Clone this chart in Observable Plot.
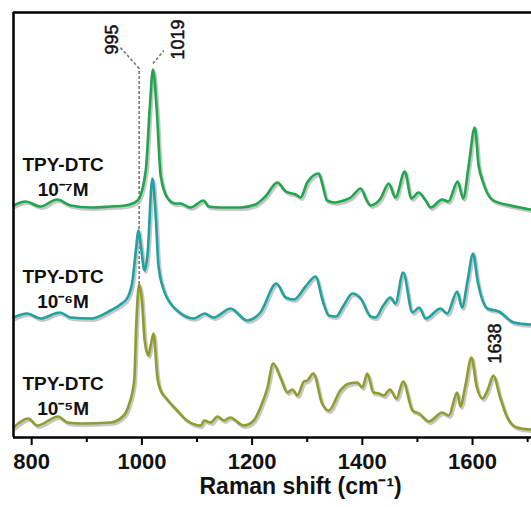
<!DOCTYPE html>
<html>
<head>
<meta charset="utf-8">
<script src="https://cdn.jsdelivr.net/npm/d3@7"></script>
<script src="https://cdn.jsdelivr.net/npm/@observablehq/plot@0.6"></script>
<style>
  html, body { margin: 0; padding: 0; background: #fff; }
  #chart svg { display: block; }
</style>
</head>
<body>
<div id="chart"></div>
<script>
// ---- Data ----
const seriesNames = ["TPY-DTC\n10⁻⁵M", "TPY-DTC\n10⁻⁶M", "TPY-DTC\n10⁻⁷M"];
const seriesColors = ["#8f9c2e", "#20a2a0", "#1fa64e"];
const seriesOffsets = [12, 119, 231];

// 10^-7 M (top, green)
const wn7 = [767, 789, 816, 846, 871, 907, 943, 970, 992, 1007, 1014, 1020, 1027, 1034, 1047, 1061, 1070, 1088, 1112, 1121, 1143, 1179, 1206, 1224, 1246, 1261, 1279, 1288, 1300, 1321, 1328, 1336, 1351, 1366, 1379, 1397, 1408, 1415, 1433, 1448, 1460, 1477, 1489, 1502, 1515, 1524, 1545, 1556, 1573, 1583, 1593, 1604, 1611, 1618, 1627, 1638, 1669, 1705];
const int7 = [1, 5, 0, 7, 1, -1, 0, 1, 6, 36, 96, 137, 96, 31, 8, 3, 3, -1, 6, 0, -1, -1, 2, 10, 24, 15, 12, 9, 24, 33, 21, 6, 4, 6, 9, 18, 6, 1, 8, 23, 9, 35, 8, 14, 6, -1, 7, 5, 25, 8, 41, 79, 41, 26, 13, 6, 1, -3];

// 10^-6 M (middle, teal)
const wn6 = [767, 792, 816, 851, 871, 907, 943, 961, 974, 983, 989, 994, 998, 1005, 1010, 1019, 1025, 1030, 1040, 1052, 1064, 1094, 1114, 1130, 1161, 1191, 1215, 1244, 1261, 1276, 1297, 1315, 1328, 1339, 1352, 1366, 1382, 1397, 1415, 1424, 1438, 1451, 1460, 1474, 1491, 1503, 1515, 1542, 1554, 1572, 1581, 1591, 1601, 1609, 1627, 1648, 1675, 1705];
const int6 = [1, 5, 0, 6, 1, 0, 8, 14, 21, 38, 68, 88, 73, 48, 63, 140, 103, 53, 28, 15, 8, 0, 5, 1, 10, -2, 6, 35, 21, 19, 32, 42, 18, 3, 2, 13, 25, 20, 2, 1, 13, 21, 15, 46, 6, 11, 0, 10, 5, 27, 11, 38, 65, 38, 10, 7, -4, -6];

// 10^-5 M (bottom, olive)
const wn5 = [767, 794, 810, 848, 865, 889, 943, 967, 976, 986, 990, 995, 1000, 1005, 1012, 1016, 1021, 1028, 1034, 1043, 1064, 1082, 1107, 1113, 1125, 1137, 1149, 1160, 1185, 1203, 1215, 1228, 1238, 1252, 1264, 1273, 1282, 1294, 1300, 1311, 1327, 1339, 1360, 1376, 1391, 1400, 1409, 1420, 1430, 1439, 1450, 1462, 1474, 1491, 1503, 1521, 1545, 1557, 1572, 1578, 1587, 1598, 1607, 1618, 1627, 1638, 1649, 1663, 1681, 1705];
const int5 = [-2, 7, 0, 9, 3, 2, 3, 10, 20, 45, 105, 141, 125, 85, 70, 80, 92, 48, 35, 28, 15, 5, 0, 5, 3, 9, 5, 8, 0, 5, 18, 38, 62, 47, 33, 36, 30, 44, 45, 52, 22, 15, 35, 42, 43, 38, 52, 33, 32, 30, 36, 27, 44, 15, 12, 4, 13, 10, 33, 19, 40, 68, 40, 27, 35, 50, 30, 8, -2, -4];

const majorTicks = [800, 1000, 1200, 1400, 1600];
const minorTicks = [900, 1100, 1300, 1500, 1700];
const peakLabels = ["995", "1019", "1638"];
const xLabel = "Raman shift (cm⁻¹)";

// ---- Build table ----
const raw = [[wn5, int5], [wn6, int6], [wn7, int7]];
const rows = [];
raw.forEach(([xs, ys], i) => {
  xs.forEach((x, j) => rows.push({series: i, x, y: ys[j] + seriesOffsets[i]}));
});
const labelRows = seriesNames.map((name, i) => ({name, i, x: 857, y: seriesOffsets[i]}));

const valAt = (xs, ys, x) => ys[xs.indexOf(x)];
const topGreen = valAt(wn7, int7, 1020) + seriesOffsets[2];
const olive995 = valAt(wn5, int5, 995) + seriesOffsets[0];

const font = "'Liberation Sans', Arial, Helvetica, sans-serif";

const plot = Plot.plot({
  width: 531,
  height: 507,
  marginLeft: 13,
  marginRight: 0,
  marginTop: 12,
  marginBottom: 70,
  style: {fontFamily: font, background: "#fff", color: "#111"},
  x: {domain: [767, 1707], label: null},
  y: {domain: [0, 425], axis: null},
  marks: [
    // annotations (dashed guides)
    Plot.ruleX([995], {y1: olive995, y2: topGreen + 1, stroke: "#777", strokeWidth: 1.6, strokeDasharray: "3,2"}),
    Plot.link([0], {x1: 995, y1: topGreen + 1, x2: 961, y2: topGreen + 22, stroke: "#777", strokeWidth: 1.6, strokeDasharray: "3,2"}),
    Plot.link([0], {x1: 1020, y1: topGreen + 6, x2: 1040, y2: topGreen + 19, stroke: "#777", strokeWidth: 1.6, strokeDasharray: "3,2"}),
    // shadows
    Plot.line(rows, {x: "x", y: "y", z: "series", stroke: "#b9b9b9", strokeWidth: 3, strokeOpacity: 0.8, curve: "monotone-x", dx: 1.5, dy: 2}),
    // spectra
    Plot.line(rows, {x: "x", y: "y", z: "series", stroke: d => seriesColors[d.series], strokeWidth: 2.6, curve: "monotone-x"}),
    // frame (left, top, bottom; right side cut)
    Plot.ruleX([767], {stroke: "#000", strokeWidth: 2.5}),
    Plot.ruleY([0, 425], {stroke: "#000", strokeWidth: 2.5}),
    // axes
    Plot.axisX({ticks: majorTicks, tickSize: 8, tickPadding: 8, strokeWidth: 2, stroke: "#000", fontSize: 22, fontWeight: "bold", tickFormat: d => String(d), label: null}),
    Plot.axisX({ticks: minorTicks, tickSize: 5, strokeWidth: 2, stroke: "#000", tickFormat: () => "", label: null}),
    Plot.text([xLabel], {x: 1288, frameAnchor: "bottom", dy: 56, fontSize: 23, fontWeight: "bold", fill: "#111"}),
    // series labels
    Plot.text(labelRows, {x: "x", y: "y", text: "name", dy: -31, fontSize: 19, fontWeight: "bold", lineHeight: 1.3, fill: "#111", textAnchor: "middle"}),
    // peak labels
    Plot.text([peakLabels[0]], {x: 947, y: 398, rotate: -90, fontSize: 18, fill: "#111", stroke: "#111", strokeWidth: 0.5}),
    Plot.text([peakLabels[1]], {x: 1066, y: 398, rotate: -90, fontSize: 18, fill: "#111", stroke: "#111", strokeWidth: 0.5}),
    Plot.text([peakLabels[2]], {x: 1642, y: 94, rotate: -90, fontSize: 18, fill: "#111", stroke: "#111", strokeWidth: 0.5})
  ]
});
document.getElementById("chart").appendChild(plot);
</script>
</body>
</html>
